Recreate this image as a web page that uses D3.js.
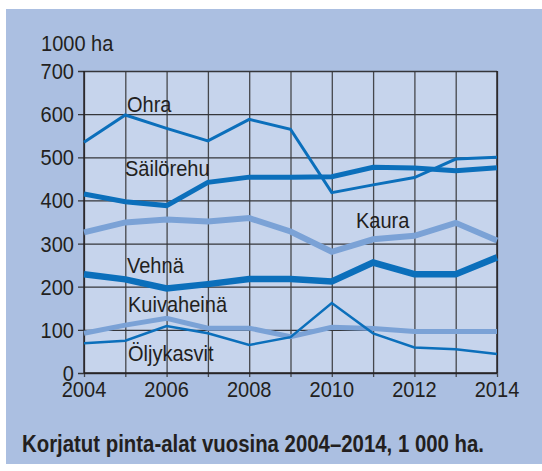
<!DOCTYPE html>
<html>
<head>
<meta charset="utf-8">
<script src="https://cdn.jsdelivr.net/npm/d3@7"></script>
<style>
    body { margin: 0; background: #fff; }
    svg text { font-family: 'Liberation Sans', Arial, sans-serif; fill: #231f20; }
</style>
</head>
<body>
<div id="chart"></div>
<script>
const years = [2004, 2005, 2006, 2007, 2008, 2009, 2010, 2011, 2012, 2013, 2014];
const yTicks = [0, 100, 200, 300, 400, 500, 600, 700];
const xTickLabels = [2004, 2006, 2008, 2010, 2012, 2014];

const ohra = [535, 598, 567, 538, 588, 565, 418, 436, 453, 496, 500];
const sailorehu = [415, 397, 388, 442, 454, 454, 455, 477, 475, 469, 476];
const kaura = [326, 349, 356, 351, 359, 328, 281, 310, 318, 348, 307];
const vehna = [229, 217, 196, 206, 218, 218, 212, 256, 229, 229, 268];
const kuivaheina = [92, 111, 127, 104, 104, 84, 106, 103, 96, 96, 96];
const oljykasvit = [69, 75, 109, 92, 65, 83, 162, 92, 59, 55, 44];

const DARK = '#0b6fbb';
const LIGHT = '#7ba2d6';
const NARROW = 0.89; // squeeze Liberation Sans towards the condensed original

const series = [
    { name: 'Kaura', values: kaura, color: LIGHT, width: 6, label: [356, 228] },
    { name: 'Kuivaheinä', values: kuivaheina, color: LIGHT, width: 5, label: [128, 312] },
    { name: 'Ohra', values: ohra, color: DARK, width: 3, label: [127, 112] },
    { name: 'Säilörehu', values: sailorehu, color: DARK, width: 5, label: [125, 176] },
    { name: 'Vehnä', values: vehna, color: DARK, width: 6.5, label: [127, 273] },
    { name: 'Öljykasvit', values: oljykasvit, color: DARK, width: 2.5, label: [128, 361] }
];

const width = 542, height = 471;
const margin = { top: 71, left: 84, right: 45, bottom: 98 };
const chartWidth = width - margin.left - margin.right;
const chartHeight = height - margin.top - margin.bottom;

const svg = d3.select('#chart').append('svg').attr('width', width).attr('height', height);

// place a narrowed text with its anchor at (x, y)
function narrowText(sel, x, y) {
    return sel.attr('transform', (d, i) => {
        let px = typeof x === 'function' ? x(d, i) : x;
        let py = typeof y === 'function' ? y(d, i) : y;
        return `translate(${px}, ${py}) scale(${NARROW}, 1)`;
    });
}

// blue background panel
svg.append('rect').attr('x', 6).attr('y', 9).attr('width', 536).attr('height', 455).attr('fill', '#abbfe1');

const chart = svg.append('g').attr('transform', `translate(${margin.left}, ${margin.top})`);

const xScale = d3.scaleLinear().domain([2004, 2014]).range([0, chartWidth]);
const yScale = d3.scaleLinear().domain([0, 700]).range([chartHeight, 0]);

chart.append('rect').attr('width', chartWidth).attr('height', chartHeight).attr('fill', '#c6d4ec');

// grid lines
chart.append('g')
    .attr('transform', `translate(0, ${chartHeight})`)
    .call(d3.axisBottom(xScale).tickValues(years).tickSize(-chartHeight).tickFormat(''))
    .call(g => g.select('.domain').remove())
    .call(g => g.selectAll('line').attr('y1', 4).attr('stroke', '#45474c').attr('stroke-width', 1.3));

chart.append('g')
    .call(d3.axisLeft(yScale).tickValues(yTicks).tickSize(-chartWidth).tickFormat(''))
    .call(g => g.select('.domain').remove())
    .call(g => g.selectAll('line').attr('x1', -6).attr('stroke', '#35363a').attr('stroke-width', 1.3));

// axis lines
chart.append('line').attr('x1', 0).attr('x2', 0).attr('y1', 0).attr('y2', chartHeight).attr('stroke', '#231f20').attr('stroke-width', 1.4);
chart.append('line').attr('x1', 0).attr('x2', chartWidth).attr('y1', chartHeight).attr('y2', chartHeight).attr('stroke', '#231f20').attr('stroke-width', 1.4);
chart.append('line').attr('x1', chartWidth).attr('x2', chartWidth).attr('y1', 0).attr('y2', chartHeight).attr('stroke', '#231f20').attr('stroke-width', 1.4);

// tick labels
chart.append('g')
    .selectAll()
    .data(yTicks)
    .enter()
    .append('text')
    .call(narrowText, -10, d => yScale(d) + 8)
    .attr('text-anchor', 'end')
    .attr('font-size', 22.5)
    .text(d => d);

chart.append('g')
    .selectAll()
    .data(xTickLabels)
    .enter()
    .append('text')
    .call(narrowText, d => xScale(d), chartHeight + 24)
    .attr('text-anchor', 'middle')
    .attr('font-size', 22.5)
    .text(d => d);

svg.append('text').call(narrowText, 41, 51).attr('font-size', 22.5).text('1000 ha');

// lines
const line = d3.line().x((d, i) => xScale(years[i])).y(d => yScale(d));

chart.append('g')
    .selectAll()
    .data(series)
    .enter()
    .append('path')
    .attr('d', s => line(s.values))
    .attr('fill', 'none')
    .attr('stroke', s => s.color)
    .attr('stroke-width', s => s.width)
    .attr('stroke-linejoin', 'miter');

// series labels
svg.append('g')
    .selectAll()
    .data(series)
    .enter()
    .append('text')
    .call(narrowText, s => s.label[0], s => s.label[1])
    .attr('font-size', 22.5)
    .text(s => s.name);

svg.append('text')
    .attr('x', 22)
    .attr('y', 452)
    .attr('font-size', 23)
    .attr('font-weight', 'bold')
    .attr('textLength', 462)
    .attr('lengthAdjust', 'spacingAndGlyphs')
    .text('Korjatut pinta-alat vuosina 2004–2014, 1 000 ha.');
</script>
</body>
</html>
